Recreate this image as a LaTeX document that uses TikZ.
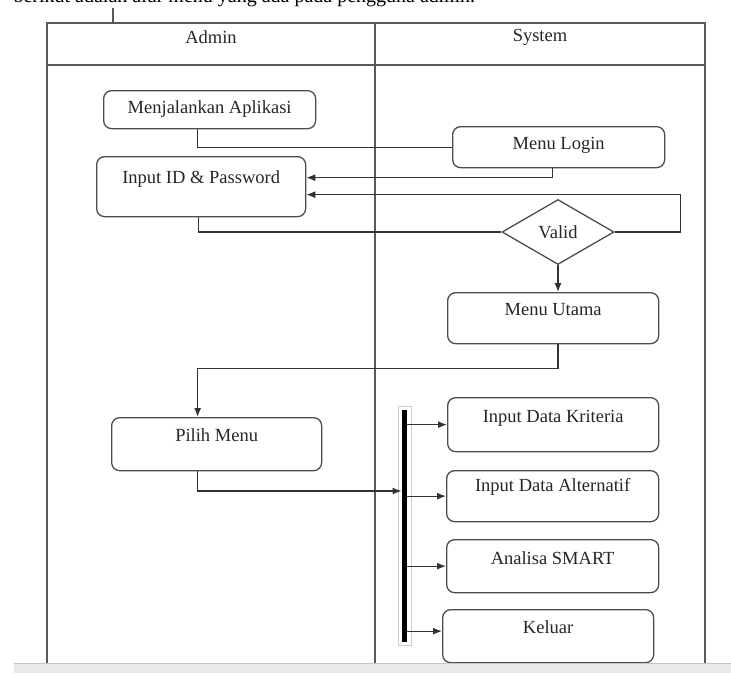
\documentclass[tikz,border=0pt]{standalone}
\usepackage{fontspec}
\setmainfont{Liberation Serif}
\usetikzlibrary{arrows.meta,shapes.geometric}
\begin{document}
\begin{tikzpicture}[x=1pt,y=-1pt,
  every node/.style={font=\fontsize{18.5}{22}\selectfont, text=black!85},
  act/.style={draw=black!70, line width=1.3pt, rounded corners=8pt, inner sep=0pt,
    anchor=north west, align=center},
  lane/.style={draw=black!65, line width=1.4pt},
  flow/.style={draw=black!80, line width=1.2pt},
  arr/.style={flow, -{Latex[length=9pt,width=7pt]}},
]
\useasboundingbox (0,0) rectangle (731,673);

% running text of the page above the diagram (its upper part lies off the page)
\node[anchor=base west, font=\fontsize{20}{20}\selectfont, text=black] (caption) at (10,2.5)
  {berikut adalah alur menu yang ada pada pengguna admin.};

% swimlane frame
\draw[lane] (47,663) -- (47,23) -- (705,23) -- (705,663);
\draw[lane] (375,23) -- (375,663);
\draw[lane] (47,65) -- (705,65);
\draw[lane] (113,8) -- (113,23);
\node (hadmin) at (211,37) {Admin};
\node (hsys) at (540,37) {System};

% activities
\node[act, minimum width=212pt, text height=23pt, text depth=15pt] (app) at (103,90) {Menjalankan Aplikasi};
\node[act, minimum width=212pt, text height=23pt, text depth=18pt] (login) at (452,126) {Menu Login};
\node[act, minimum width=209pt, text height=27pt, text depth=33pt] (input) at (96,156) {Input ID \& Password};
\node[draw=black!70, line width=1.3pt, shape=diamond, aspect=1.7, inner sep=0pt,
  minimum width=112pt, minimum height=65pt] (valid) at (558,232) {Valid};
\node[act, minimum width=211pt, text height=23pt, text depth=28pt] (utama) at (447,292) {Menu Utama};
\node[act, minimum width=210pt, text height=24pt, text depth=29pt] (pilih) at (111,417) {Pilih Menu};
\node[act, minimum width=211pt, text height=25pt, text depth=29pt] (krit) at (447,397) {Input Data Kriteria};
\node[act, minimum width=212pt, text height=21pt, text depth=30pt] (alt) at (446,470) {Input Data Alternatif};
\node[act, minimum width=212pt, text height=25pt, text depth=28pt] (smart) at (446,539) {Analisa SMART};
\node[act, minimum width=211pt, text height=24pt, text depth=29pt] (keluar) at (442,609) {Keluar};

% fork bar
\node[fill=black, inner sep=0pt, minimum width=5.5pt, minimum height=232pt] (fork) at (404.5,526) {};
\draw[black!20, line width=0.8pt] ([xshift=-3pt,yshift=3pt]fork.north west) rectangle ([xshift=3.5pt,yshift=-3pt]fork.south east);

% control flow
\draw[flow] ([xshift=-12pt]app.south) |- (login.west);
\draw[arr] ([xshift=-6pt]login.south) |- ([yshift=9pt]input.east);
\draw[arr] (valid.east) -- ++(66,0) |- ([yshift=-8pt]input.east);
\draw[flow] ([xshift=-3pt]input.south) |- (valid.west);
\draw[arr] (valid.south) -- (utama.north -| valid.south);
\draw[arr] (utama.south -| valid.south) -- ++(0,24) -| ([xshift=-19pt]pilih.north);
\draw[arr] ([xshift=-19pt]pilih.south) |- ([yshift=35pt]fork.west);
\draw[arr] (fork.east |- krit.west) -- (krit.west);
\draw[arr] (fork.east |- alt.west) -- (alt.west);
\draw[arr] (fork.east |- smart.west) -- (smart.west);
\draw[arr] ([yshift=5pt]fork.east |- keluar.west) -- ([yshift=5pt]keluar.west);

% status bar at the foot of the page
\fill[gray!17] (14,663) rectangle (731,673);
\draw[gray!45, line width=0.8pt] (14,663) -- (731,663);
\end{tikzpicture}
\end{document}
